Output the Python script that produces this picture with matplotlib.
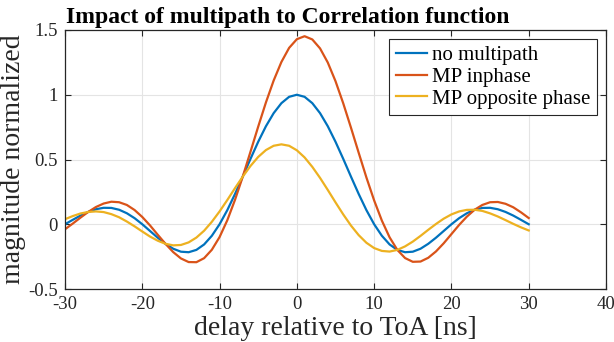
import numpy as np
import matplotlib
matplotlib.use("Agg")
import matplotlib.pyplot as plt

plt.rcParams['font.family'] = ['Liberation Serif', 'DejaVu Serif']
plt.rcParams['axes.unicode_minus'] = False

# delay axis [ns] at 1 ns steps
delay = list(range(-30, 31))

no_multipath = [
    0.000, 0.034, 0.067, 0.095, 0.116, 0.127, 0.126, 0.112, 0.085, 0.047,
    0.000, -0.052, -0.104, -0.151, -0.189, -0.212, -0.216, -0.198, -0.156, -0.089,
    0.000, 0.109, 0.234, 0.368, 0.505, 0.637, 0.757, 0.858, 0.935, 0.984,
    1.000,
    0.984, 0.935, 0.858, 0.757, 0.637, 0.505, 0.368, 0.234, 0.109, 0.000,
    -0.089, -0.156, -0.198, -0.216, -0.212, -0.189, -0.151, -0.104, -0.052, 0.000,
    0.047, 0.085, 0.112, 0.126, 0.127, 0.116, 0.095, 0.067, 0.034, 0.000,
]

mp_inphase = [
    -0.039, 0.005, 0.051, 0.095, 0.133, 0.160, 0.174, 0.170, 0.149, 0.110,
    0.056, -0.009, -0.081, -0.151, -0.215, -0.264, -0.292, -0.293, -0.262, -0.197,
    -0.099, 0.031, 0.189, 0.368, 0.560, 0.754, 0.941, 1.110, 1.253, 1.362,
    1.429,
    1.452, 1.427, 1.358, 1.249, 1.105, 0.934, 0.746, 0.552, 0.361, 0.184,
    0.028, -0.101, -0.198, -0.261, -0.290, -0.288, -0.259, -0.210, -0.147, -0.076,
    -0.005, 0.059, 0.112, 0.149, 0.170, 0.172, 0.158, 0.131, 0.092, 0.048,
]

mp_opposite = [
    0.039, 0.063, 0.083, 0.095, 0.099, 0.094, 0.078, 0.054, 0.021, -0.016,
    -0.056, -0.095, -0.127, -0.151, -0.163, -0.160, -0.140, -0.103, -0.050, 0.019,
    0.099, 0.187, 0.279, 0.368, 0.450, 0.520, 0.573, 0.606, 0.617, 0.606,
    0.571,
    0.516, 0.443, 0.358, 0.265, 0.169, 0.076, -0.010, -0.084, -0.143, -0.184,
    -0.206, -0.211, -0.198, -0.171, -0.134, -0.090, -0.043, 0.002, 0.043, 0.076,
    0.099, 0.111, 0.112, 0.103, 0.084, 0.060, 0.032, 0.003, -0.024, -0.048,
]

labels = ['no multipath', 'MP inphase', 'MP opposite phase']
colors = ['#0072BD', '#D95319', '#EDB120']
x_ticks = [-30, -20, -10, 0, 10, 20, 30, 40]
y_ticks = [-0.5, 0, 0.5, 1, 1.5]
y_ticklabels = ['-0.5', '0', '0.5', '1', '1.5']

fig = plt.figure(figsize=(6.14, 3.42), dpi=100)
ax = fig.add_axes([65/614, 1-289/342, (606-65)/614, (289-30)/342])

for series, lab, col in zip([no_multipath, mp_inphase, mp_opposite], labels, colors):
    ax.plot(delay, series, color=col, lw=1.6, label=lab)

ax.set_xlim(-30, 40)
ax.set_ylim(-0.5, 1.5)
ax.set_xticks(x_ticks)
ax.set_xticklabels([str(t) for t in x_ticks])
ax.set_yticks(y_ticks)
ax.set_yticklabels(y_ticklabels)
ax.tick_params(direction='in', length=4, width=0.8, top=True, right=True,
               labelsize=13.5, colors='#262626', pad=5)
for s in ax.spines.values():
    s.set_linewidth(0.9)
    s.set_color('#262626')
ax.grid(True, color='#e4e4e4', lw=0.8)
ax.set_axisbelow(True)

ax.set_xlabel('delay relative to ToA [ns]', fontsize=20, color='#262626', labelpad=2)
ax.set_ylabel('magnitude normalized', fontsize=20, color='#262626', labelpad=2)
ax.set_title('Impact of multipath to Correlation function', fontsize=17,
             fontweight='bold', x=0.412, pad=5)

leg = ax.legend(loc='upper right', fontsize=15, handlelength=1.5, handletextpad=0.25,
                labelspacing=0.1, borderpad=0.3, borderaxespad=0.45,
                fancybox=False, framealpha=1, edgecolor='#262626')
leg.get_frame().set_linewidth(0.8)

fig.savefig('out.png', dpi=100)
